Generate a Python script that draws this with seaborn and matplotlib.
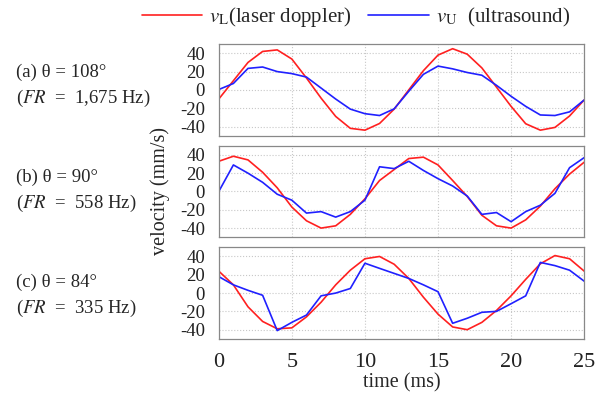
import numpy as np
import pandas as pd
import matplotlib
matplotlib.use("Agg")
import matplotlib.pyplot as plt
import seaborn as sns

time_ms = list(range(26))

laser_a = [-10, 10, 30, 42, 43.7, 33.7, 13, -9, -29, -42, -44, -36.7, -21, 0, 21, 38, 45, 39, 24, 3, -18, -37, -44, -41, -28.5, -11]
ultra_a = [0.4, 7, 23.5, 25, 20, 17.8, 14, 2, -10, -21, -26, -28, -20.7, -1.5, 17, 26, 23, 19, 16, 5, -7, -18, -27.4, -28, -24, -11]

laser_b = [33, 38.5, 34.5, 21, 4, -17, -32, -40, -37.5, -25, -8, 12, 24, 36, 37.5, 29, 12, -5.5, -26, -37.5, -40, -31, -16, 3, 19, 32]
ultra_b = [0, 29, 20, 10, -3, -9.5, -23.6, -22, -28, -22, -9.5, 27, 25, 33, 23, 14, 6, -5, -25, -23, -33, -22, -15, -2, 26, 37]

laser_c = [24, 9, -15, -31, -39, -38, -26, -10, 9, 25, 37.5, 40, 31.5, 16, -4.5, -23, -37, -40, -32, -19, -3, 15, 32, 41, 37.5, 24]
ultra_c = [18, 9, 3, -2.4, -41, -32, -24, -3, 0, 5, 32.6, 27, 21.5, 16, 9, 1.5, -33, -27.5, -21, -20, -11.6, -3, 33.5, 30, 25, 13]

panel_labels = ["(a) θ = 108°", "(b) θ = 90°", "(c) θ = 84°"]
fr_labels = ["1,675 Hz", "558 Hz", "335 Hz"]
series_names = [r"$v_{\mathrm{L}}$(laser doppler)", r"$v_{\mathrm{U}}$  (ultrasound)"]
yticks = [-40, -20, 0, 20, 40]
xticks = [0, 5, 10, 15, 20, 25]

sns.set_theme(style="white")
plt.rcParams["font.family"] = ["Liberation Serif", "DejaVu Serif"]
plt.rcParams["mathtext.fontset"] = "stix"

fig, axes = plt.subplots(3, 1, figsize=(6.06, 3.94), dpi=100, sharex=True)
fig.subplots_adjust(left=0.361, right=0.964, top=0.888, bottom=0.14, hspace=0.11)

panels = [(laser_a, ultra_a), (laser_b, ultra_b), (laser_c, ultra_c)]
palette = {series_names[0]: "#ff2020", series_names[1]: "#2020ff"}

label_y = [72, 177, 282]

for i, (ax, (lv, uv)) in enumerate(zip(axes, panels)):
    df = pd.DataFrame({
        "time": time_ms * 2,
        "velocity": lv + uv,
        "series": [series_names[0]] * len(lv) + [series_names[1]] * len(uv),
    })
    sns.lineplot(data=df, x="time", y="velocity", hue="series", palette=palette,
                 ax=ax, linewidth=1.2, legend=(i == 0))
    ax.set_xlim(0, 25)
    ax.set_ylim(-50, 50)
    ax.set_yticks(yticks)
    ax.set_yticklabels([str(v) for v in yticks])
    ax.set_xticks(xticks)
    ax.grid(True, color="#c8c8c8", linestyle=":", linewidth=0.8)
    for sp in ax.spines.values():
        sp.set_color("#888888")
        sp.set_linewidth(0.9)
    ax.tick_params(axis="both", length=0, pad=10, labelsize=13.5, colors="#222222")
    ax.set_xlabel("")
    ax.set_ylabel("")
    fig.text(16 / 606, 1 - label_y[i] / 394, panel_labels[i], fontsize=13.5, va="center", ha="left")
    fig.text(16 / 606, 1 - (label_y[i] + 26) / 394, r"($\mathit{FR}$  =  " + fr_labels[i] + ")",
             fontsize=13.5, va="center", ha="left")

handles, labels = axes[0].get_legend_handles_labels()
axes[0].get_legend().remove()
fig.legend(handles, labels, loc="center", bbox_to_anchor=(356 / 606, 1 - 17 / 394), ncol=2,
           frameon=False, fontsize=15, handlelength=2.9, columnspacing=0.8, handletextpad=0.35)

axes[2].set_xlabel("time (ms)", fontsize=14.5, labelpad=1)
axes[2].tick_params(axis="x", labelsize=16, pad=10)
fig.text(160 / 606, 1 - 191 / 394, "velocity (mm/s)", rotation=90, fontsize=14.5,
         va="center", ha="center")

fig.savefig("out.png", dpi=100, facecolor="white")
